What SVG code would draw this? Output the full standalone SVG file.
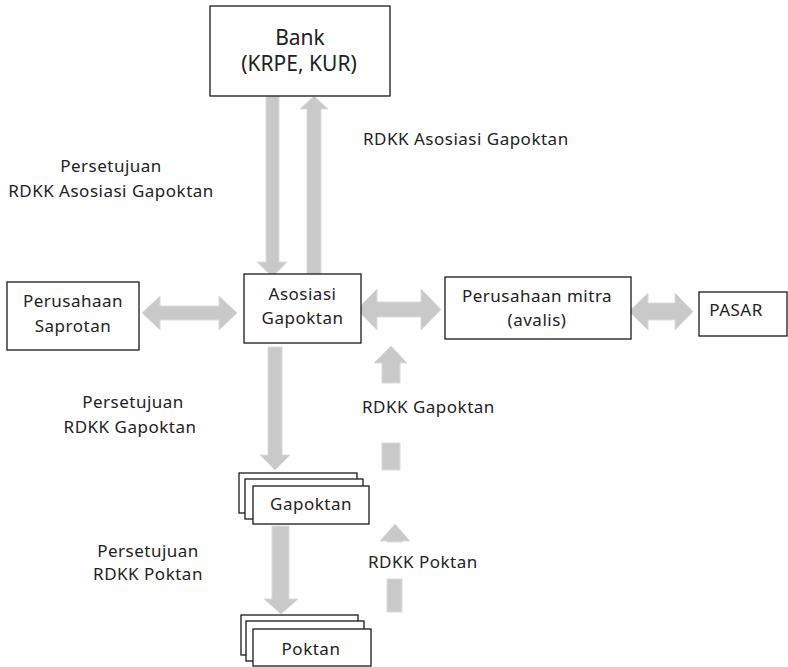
<svg xmlns="http://www.w3.org/2000/svg" width="788" height="667" viewBox="0 0 788 667">
  <style>
    .box { fill: #ffffff; stroke: #1a1a1a; stroke-width: 1.3; }
    .arr { fill: #c9c9c9; stroke: #dcdcdc; stroke-width: 1; }
    text { font-family: "Noto Sans", "Open Sans", sans-serif; font-size: 17px; letter-spacing: 0.5px; fill: #222222; }
    .mid { text-anchor: middle; }
    .big { font-size: 21px; letter-spacing: 0; }
  </style>
  <rect width="788" height="667" fill="#ffffff"/>

  <!-- connectors: block arrows -->
  <g id="connectors">
    <!-- Bank -> Asosiasi -->
    <polygon class="arr" points="266,96 279,96 279,262 287,262 272.5,277 257,262 266,262"/>
    <!-- Asosiasi -> Bank -->
    <polygon class="arr" points="307,274 307,109 300,109 314,96 328,109 321,109 321,274"/>
    <!-- Saprotan <-> Asosiasi -->
    <polygon class="arr" points="142,313 160,296 160,306 219,306 219,296 237,313 219,330 219,320 160,320 160,330"/>
    <!-- Asosiasi <-> Perusahaan mitra -->
    <polygon class="arr" points="357,309.5 377,289 377,302 421,302 421,289 441,309.5 421,330 421,317 377,317 377,330"/>
    <!-- Perusahaan mitra <-> PASAR -->
    <polygon class="arr" points="629,311.5 648,293 648,303 675,303 675,293 693,311.5 675,330 675,320 648,320 648,330"/>
    <!-- Asosiasi -> Gapoktan -->
    <polygon class="arr" points="268,347 282,347 282,455 290,455 275,470 260,455 268,455"/>
    <!-- Gapoktan -> Asosiasi (split around its label) -->
    <polygon class="arr" points="382,383 382,363 374,363 391,346 407,363 400,363 400,383"/>
    <rect class="arr" x="382" y="443" width="18" height="27"/>
    <!-- Gapoktan -> Poktan -->
    <polygon class="arr" points="272,526 289,526 289,599 298,599 281,614 264,599 272,599"/>
    <!-- Poktan -> Gapoktan (split around its label) -->
    <polygon class="arr" points="387,542 387,541 380,541 395,524 410,541 402,541 402,542"/>
    <rect class="arr" x="387" y="579" width="15" height="33"/>
  </g>

  <g id="bank">
    <rect class="box" x="210" y="6" width="180" height="90"/>
    <text class="mid big" x="300" y="45">Bank</text>
    <text class="mid big" x="299" y="71">(KRPE, KUR)</text>
  </g>

  <g id="asosiasi">
    <rect class="box" x="244" y="274" width="117" height="69"/>
    <text class="mid" x="302.5" y="300">Asosiasi</text>
    <text class="mid" x="302.5" y="324">Gapoktan</text>
  </g>

  <g id="saprotan">
    <rect class="box" x="7" y="282" width="132" height="68"/>
    <text class="mid" x="73" y="307">Perusahaan</text>
    <text class="mid" x="73" y="332">Saprotan</text>
  </g>

  <g id="mitra">
    <rect class="box" x="445" y="277" width="186" height="62"/>
    <text class="mid" x="537" y="302">Perusahaan mitra</text>
    <text class="mid" x="537" y="326">(avalis)</text>
  </g>

  <g id="pasar">
    <rect class="box" x="699" y="292" width="88" height="44"/>
    <text class="mid" x="736" y="316">PASAR</text>
  </g>

  <g id="gapoktan">
    <rect class="box" x="239" y="473" width="118" height="40"/>
    <rect class="box" x="245" y="479" width="118" height="40"/>
    <rect class="box" x="253" y="486" width="116" height="38"/>
    <text class="mid" x="311" y="510">Gapoktan</text>
  </g>

  <g id="poktan">
    <rect class="box" x="241" y="615" width="117" height="40"/>
    <rect class="box" x="246" y="621" width="118" height="40"/>
    <rect class="box" x="253" y="629" width="118" height="37"/>
    <text class="mid" x="311" y="655">Poktan</text>
  </g>

  <!-- flow labels -->
  <g id="labels">
    <text x="363" y="145">RDKK Asosiasi Gapoktan</text>
    <text class="mid" x="111" y="172">Persetujuan</text>
    <text class="mid" x="111" y="197">RDKK Asosiasi Gapoktan</text>
    <text class="mid" x="133" y="408">Persetujuan</text>
    <text class="mid" x="130" y="433">RDKK Gapoktan</text>
    <text x="362" y="413">RDKK Gapoktan</text>
    <text class="mid" x="148" y="557">Persetujuan</text>
    <text class="mid" x="148" y="580">RDKK Poktan</text>
    <text x="368" y="568">RDKK Poktan</text>
  </g>
</svg>
